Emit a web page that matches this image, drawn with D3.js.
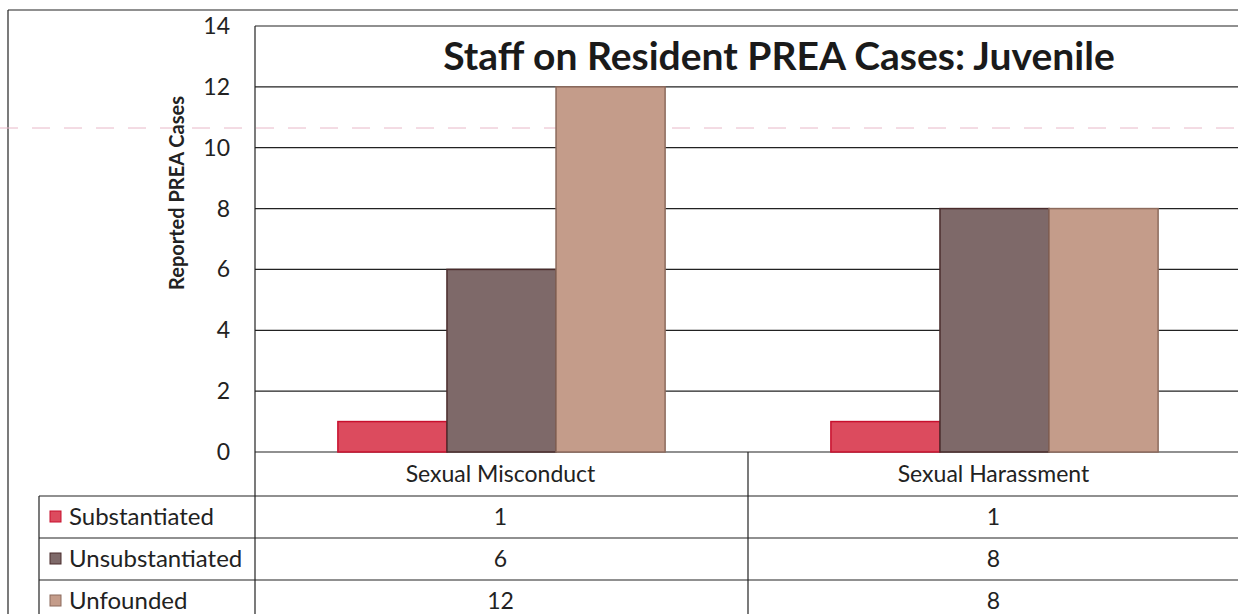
<!DOCTYPE html>
<html>
<head>
<meta charset="utf-8">
<script src="https://cdn.jsdelivr.net/npm/d3@7"></script>
<style>
  html, body { margin: 0; padding: 0; background: #fff; }
  svg { display: block; font-family: Lato, "Open Sans", sans-serif; }
</style>
</head>
<body>
<svg id="chart" width="1238" height="614"></svg>
<script>
// --- Data ---
const categories = ['Sexual Misconduct', 'Sexual Harassment'];
const series = ['Substantiated', 'Unsubstantiated', 'Unfounded'];
const substantiated = [1, 1];
const unsubstantiated = [6, 8];
const unfounded = [12, 8];
const yTicks = [0, 2, 4, 6, 8, 10, 12, 14];

const values = [substantiated, unsubstantiated, unfounded];
const fills = ['#dc4b5e', '#7e6969', '#c49c8a'];
const strokes = ['#c8102e', '#4a2c2c', '#8c6a5c'];

const svg = d3.select('#chart');
const W = 1238, H = 614;
const plot = { left: 255, right: 1241, top: 26, bottom: 452 };
const rowH = 42;
const catRowBottom = 496;
const tableLeft = 39;

const x0 = d3.scaleBand().domain(categories).range([plot.left, plot.right]);
const x1 = d3.scaleBand().domain(series).range([0, x0.bandwidth()]).paddingOuter(0.76);
const y = d3.scaleLinear().domain([0, 14]).range([plot.bottom, plot.top]);

// outer frame
svg.append('line').attr('x1', 8).attr('x2', W).attr('y1', 10).attr('y2', 10)
  .attr('stroke', '#222').attr('stroke-width', 1.2);
svg.append('line').attr('x1', 8).attr('x2', 8).attr('y1', 10).attr('y2', H)
  .attr('stroke', '#222').attr('stroke-width', 1.2);

// faint scan artifact line
svg.append('line').attr('x1', 0).attr('x2', W).attr('y1', 128).attr('y2', 128)
  .attr('stroke', '#e8b8c8').attr('stroke-width', 1).attr('stroke-dasharray', '18,14');

// gridlines
svg.selectAll('.grid').data(yTicks).join('line')
  .attr('x1', plot.left).attr('x2', W)
  .attr('y1', d => y(d)).attr('y2', d => y(d))
  .attr('stroke', '#222').attr('stroke-width', 1.2);

// y tick labels
svg.selectAll('.ytick').data(yTicks).join('text')
  .attr('x', 230).attr('y', d => y(d) + 8)
  .attr('text-anchor', 'end').attr('font-size', 23).attr('fill', '#222')
  .text(d => d);

// y axis title
svg.append('text')
  .attr('transform', 'translate(184,193) rotate(-90)')
  .attr('text-anchor', 'middle').attr('font-size', 20).attr('font-weight', 'bold')
  .attr('fill', '#222')
  .text('Reported PREA Cases');

// bars
series.forEach((s, si) => {
  svg.selectAll('.bar-' + si).data(categories).join('rect')
    .attr('x', c => x0(c) + x1(s))
    .attr('width', x1.bandwidth())
    .attr('y', (c, ci) => y(values[si][ci]))
    .attr('height', (c, ci) => y(0) - y(values[si][ci]))
    .attr('fill', fills[si])
    .attr('stroke', strokes[si]).attr('stroke-width', 1.5);
});

// title
svg.append('text')
  .attr('x', 779).attr('y', 70)
  .attr('text-anchor', 'middle').attr('font-size', 39).attr('font-weight', 'bold')
  .attr('fill', '#1a1a1a')
  .text('Staff on Resident PREA Cases: Juvenile');

// --- data table ---
const tableLines = '#222';
// plot left border down through table
svg.append('line').attr('x1', plot.left).attr('x2', plot.left).attr('y1', plot.top).attr('y2', H)
  .attr('stroke', tableLines).attr('stroke-width', 1.2);
// category divider
svg.append('line').attr('x1', x0(categories[1])).attr('x2', x0(categories[1]))
  .attr('y1', plot.bottom).attr('y2', H)
  .attr('stroke', tableLines).attr('stroke-width', 1.2);
// table left edge
svg.append('line').attr('x1', tableLeft).attr('x2', tableLeft).attr('y1', catRowBottom).attr('y2', H)
  .attr('stroke', tableLines).attr('stroke-width', 1.2);
// row lines
const rowTops = series.map((s, i) => catRowBottom + i * rowH);
svg.selectAll('.rowline').data(rowTops).join('line')
  .attr('x1', tableLeft).attr('x2', W)
  .attr('y1', d => d).attr('y2', d => d)
  .attr('stroke', tableLines).attr('stroke-width', 1.2);

// category labels
svg.selectAll('.cat').data(categories).join('text')
  .attr('x', c => x0(c) + x0.bandwidth() / 2 - 1)
  .attr('y', 482)
  .attr('text-anchor', 'middle').attr('font-size', 23).attr('fill', '#222')
  .text(c => c);

// row labels with legend keys
series.forEach((s, si) => {
  const top = rowTops[si];
  svg.append('rect')
    .attr('x', 50).attr('y', top + rowH / 2 - 6).attr('width', 11).attr('height', 11)
    .attr('fill', fills[si]).attr('stroke', strokes[si]).attr('stroke-width', 1);
  svg.append('text')
    .attr('x', 69).attr('y', top + rowH / 2 + 8)
    .attr('font-size', 24).attr('fill', '#222')
    .text(s);
  svg.selectAll('.val-' + si).data(categories).join('text')
    .attr('x', c => x0(c) + x0.bandwidth() / 2 - 1)
    .attr('y', top + rowH / 2 + 8)
    .attr('text-anchor', 'middle').attr('font-size', 23).attr('fill', '#222')
    .text((c, ci) => values[si][ci]);
});
</script>
</body>
</html>
